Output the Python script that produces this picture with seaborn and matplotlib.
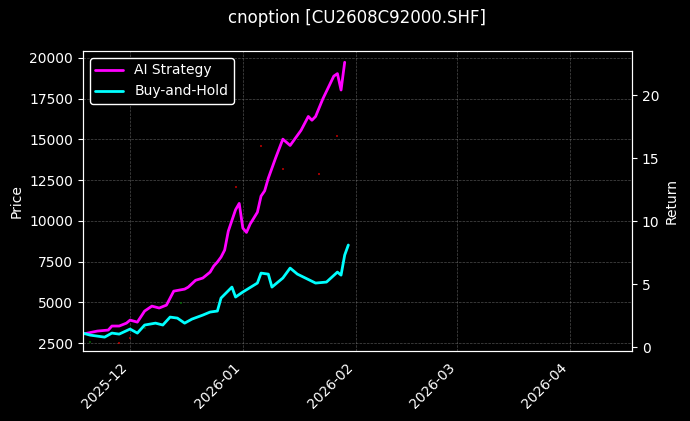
import matplotlib
matplotlib.use("Agg")
import matplotlib.pyplot as plt
import matplotlib.dates as mdates
import seaborn as sns
import pandas as pd

ai_dates = ["2025-11-18", "2025-11-22", "2025-11-25", "2025-11-26", "2025-11-28", "2025-11-30",
            "2025-12-01", "2025-12-03", "2025-12-05", "2025-12-07", "2025-12-09", "2025-12-11",
            "2025-12-13", "2025-12-16", "2025-12-17", "2025-12-19", "2025-12-21", "2025-12-23",
            "2025-12-24", "2025-12-25", "2025-12-26", "2025-12-27", "2025-12-28", "2025-12-30",
            "2025-12-31", "2026-01-01", "2026-01-02", "2026-01-03", "2026-01-05", "2026-01-06",
            "2026-01-07", "2026-01-08", "2026-01-10", "2026-01-12", "2026-01-14", "2026-01-16",
            "2026-01-17", "2026-01-19", "2026-01-20", "2026-01-21", "2026-01-23", "2026-01-26",
            "2026-01-27", "2026-01-28", "2026-01-29"]
ai_return = [1.03, 1.27, 1.35, 1.67, 1.67, 1.9, 2.14, 1.98, 2.86, 3.25, 3.10, 3.33,
             4.44, 4.6, 4.76, 5.3, 5.48, 5.95, 6.43, 6.75, 7.14, 7.7, 9.2, 10.9,
             11.4, 9.44, 9.1, 9.76, 10.7, 11.98, 12.4, 13.4, 15.0, 16.5, 16.0, 16.8,
             17.2, 18.3, 18.0, 18.3, 19.7, 21.5, 21.7, 20.4, 22.6]

bh_dates = ["2025-11-18", "2025-11-20", "2025-11-24", "2025-11-26", "2025-11-28", "2025-12-01",
            "2025-12-03", "2025-12-05", "2025-12-08", "2025-12-10", "2025-12-12", "2025-12-14",
            "2025-12-16", "2025-12-18", "2025-12-21", "2025-12-23", "2025-12-25", "2025-12-26",
            "2025-12-29", "2025-12-30", "2026-01-01", "2026-01-05", "2026-01-06", "2026-01-08",
            "2026-01-09", "2026-01-12", "2026-01-14", "2026-01-16", "2026-01-21", "2026-01-24",
            "2026-01-27", "2026-01-28", "2026-01-29", "2026-01-30"]
bh_return = [1.11, 0.95, 0.79, 1.11, 1.03, 1.43, 1.11, 1.75, 1.90, 1.75, 2.38, 2.30,
             1.90, 2.22, 2.54, 2.78, 2.86, 3.89, 4.76, 3.97, 4.37, 5.08, 5.87, 5.79,
             4.76, 5.48, 6.27, 5.79, 5.08, 5.16, 5.95, 5.71, 7.3, 8.1]

# faint price marks (candles) on the left axis
up_dates = ["2025-11-20", "2025-12-05", "2025-12-15"]
up_price = [2550, 3450, 4950]
down_dates = ["2025-11-18", "2025-11-28", "2025-12-01", "2025-12-30", "2026-01-06", "2026-01-12",
              "2026-01-22", "2026-01-27"]
down_price = [2500, 2500, 2800, 12100, 14600, 13200, 12900, 15200]

plt.style.use("dark_background")
sns.set_style("dark", {"axes.facecolor": "black", "figure.facecolor": "black",
                       "axes.edgecolor": "white", "text.color": "white",
                       "axes.labelcolor": "white", "xtick.color": "white",
                       "ytick.color": "white"})
plt.rcParams["font.family"] = ["DejaVu Sans"]

fig, ax = plt.subplots(figsize=(6.9, 4.21), dpi=100)
fig.patch.set_facecolor("black")
ax.set_facecolor("black")

ax.scatter(pd.to_datetime(up_dates), up_price, s=1, color="green", marker="s", alpha=0.6, linewidths=0)
ax.scatter(pd.to_datetime(down_dates), down_price, s=1, color="red", marker="s", alpha=0.6, linewidths=0)
ax.set_ylim(2010, 20430)
ax.set_ylabel("Price")
ax.grid(True, color="gray", linestyle="--", linewidth=0.5, alpha=0.6)

ax2 = ax.twinx()
sns.lineplot(x=pd.to_datetime(ai_dates), y=ai_return, ax=ax2, color="magenta",
             linewidth=2, label="AI Strategy")
sns.lineplot(x=pd.to_datetime(bh_dates), y=bh_return, ax=ax2, color="cyan",
             linewidth=2, label="Buy-and-Hold")
ax2.set_ylim(-0.32, 23.5)
ax2.set_ylabel("Return")
ax2.legend(loc="upper left", facecolor="black", edgecolor="white", framealpha=1)

ax.set_xlim(pd.Timestamp("2025-11-18"), pd.Timestamp("2026-04-18"))
ax.xaxis.set_major_locator(mdates.MonthLocator())
ax.xaxis.set_major_formatter(mdates.DateFormatter("%Y-%m"))
plt.setp(ax.get_xticklabels(), rotation=45, ha="right")
for a in (ax, ax2):
    for s in a.spines.values():
        s.set_color("white")

ax.set_title("cnoption [CU2608C92000.SHF]", pad=20)
fig.subplots_adjust(left=0.12, right=0.916, top=0.879, bottom=0.166)
fig.savefig("out.png", dpi=100, facecolor="black")
